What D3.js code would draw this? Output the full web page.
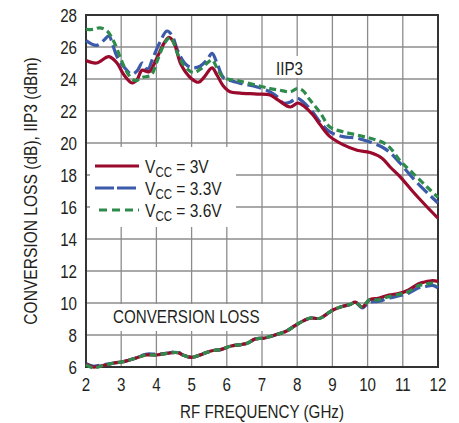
<!DOCTYPE html>
<html>
<head>
<meta charset="utf-8">
<script src="https://cdn.jsdelivr.net/npm/d3@7"></script>
<style>
  body { margin: 0; background: #fff; }
  text { font-family: "Liberation Sans", Arial, sans-serif; fill: #231f20; }
</style>
</head>
<body>
<script>
var w = 459;
var h = 423;
var narrow = 0.82; // squeeze text horizontally, like a condensed face

// x ticks / y ticks
var xTicks = [2, 3, 4, 5, 6, 7, 8, 9, 10, 11, 12];
var yTicks = [6, 8, 10, 12, 14, 16, 18, 20, 22, 24, 26, 28];

// IIP3 curves (GHz, dBm)
var iip3Freq3V = [2.0, 2.3, 2.65, 2.88, 3.08, 3.31, 3.45, 3.59, 3.79, 3.99, 4.22, 4.36, 4.5, 4.7, 4.98, 5.2, 5.35, 5.58, 5.72, 5.89, 6.09, 6.38, 6.86, 7.23, 7.45, 7.8, 8.02, 8.22, 8.45, 8.65, 8.93, 9.3, 9.7, 10.07, 10.41, 10.64, 10.92, 11.29, 11.69, 12.0];
var iip3Val3V  = [25.15, 25.0, 25.4, 25.0, 24.25, 23.75, 23.95, 24.55, 24.45, 25.2, 26.25, 26.6, 26.25, 24.9, 24.05, 23.8, 24.1, 24.7, 24.25, 23.6, 23.2, 23.12, 23.06, 23.0, 22.7, 22.25, 22.5, 22.25, 21.75, 21.15, 20.4, 19.9, 19.55, 19.4, 19.05, 18.5, 17.9, 16.95, 16.0, 15.3];

var iip3Freq33V = [2.0, 2.3, 2.5, 2.65, 2.75, 2.88, 3.08, 3.3, 3.45, 3.6, 3.75, 3.9, 4.1, 4.3, 4.45, 4.6, 4.8, 5.0, 5.24, 5.44, 5.58, 5.72, 5.9, 6.1, 6.45, 6.86, 7.23, 7.43, 7.6, 7.8, 8.0, 8.17, 8.45, 8.65, 8.93, 9.3, 9.7, 10.07, 10.41, 10.64, 10.92, 11.29, 11.69, 12.0];
var iip3Val33V  = [26.4, 26.1, 26.4, 26.7, 26.2, 25.4, 24.75, 24.3, 24.5, 25.0, 24.6, 25.3, 26.3, 27.0, 26.7, 25.8, 25.0, 24.7, 24.8, 25.2, 25.6, 25.0, 24.1, 23.9, 23.7, 23.5, 23.2, 22.9, 22.5, 22.56, 22.8, 22.56, 21.9, 21.3, 20.7, 20.4, 20.3, 20.06, 19.75, 19.4, 18.75, 17.8, 16.9, 16.25];

var iip3Freq36V = [2.0, 2.2, 2.4, 2.6, 2.8, 3.0, 3.2, 3.4, 3.6, 3.85, 4.0, 4.25, 4.4, 4.6, 4.8, 5.05, 5.24, 5.47, 5.58, 5.72, 5.9, 6.3, 6.86, 7.23, 7.5, 7.8, 8.0, 8.15, 8.36, 8.65, 8.93, 9.3, 9.7, 10.07, 10.41, 10.64, 10.92, 11.29, 11.69, 12.0];
var iip3Val36V  = [27.1, 27.1, 27.2, 27.0, 26.3, 25.2, 24.3, 23.9, 24.1, 24.25, 25.0, 26.3, 26.6, 25.6, 24.8, 24.4, 24.6, 25.05, 25.2, 24.7, 24.1, 23.9, 23.6, 23.4, 23.3, 23.2, 23.4, 23.3, 22.7, 21.9, 21.0, 20.7, 20.5, 20.3, 20.06, 19.7, 18.9, 18.1, 17.25, 16.6];

// conversion loss curves (GHz, dB)
var clFreq = [2.0, 2.2, 2.5, 2.8, 3.1, 3.4, 3.7, 4.0, 4.3, 4.6, 4.75, 5.0, 5.3, 5.55, 5.85, 6.1, 6.4, 6.6, 6.8, 7.05, 7.3, 7.7, 7.95, 8.35, 8.65, 9.0, 9.3, 9.5, 9.65, 9.85, 10.05, 10.3, 10.6, 10.9, 11.15, 11.45, 11.6, 11.85, 12.0];
var clVal3V  = [6.2, 6.0, 6.1, 6.25, 6.35, 6.55, 6.75, 6.75, 6.85, 6.9, 6.75, 6.6, 6.8, 7.0, 7.1, 7.3, 7.4, 7.5, 7.75, 7.8, 7.95, 8.25, 8.6, 9.05, 9.05, 9.55, 9.8, 9.9, 10.05, 9.75, 10.2, 10.3, 10.5, 10.6, 10.8, 11.2, 11.3, 11.4, 11.35];
var clVal33V = [6.2, 6.05, 6.15, 6.25, 6.35, 6.55, 6.8, 6.8, 6.85, 6.95, 6.75, 6.6, 6.8, 7.0, 7.1, 7.3, 7.4, 7.5, 7.75, 7.8, 7.95, 8.25, 8.6, 9.05, 9.05, 9.55, 9.8, 9.9, 10.05, 9.7, 10.05, 10.1, 10.3, 10.45, 10.6, 10.95, 11.0, 11.1, 10.95];
var clVal36V = [6.15, 5.95, 6.1, 6.25, 6.35, 6.55, 6.75, 6.75, 6.85, 6.9, 6.75, 6.6, 6.8, 7.0, 7.1, 7.3, 7.4, 7.5, 7.75, 7.8, 7.95, 8.25, 8.6, 9.05, 9.05, 9.55, 9.8, 9.9, 10.05, 9.75, 10.2, 10.2, 10.4, 10.55, 10.7, 11.1, 11.15, 11.25, 11.15];

var legendLabels = ["3V", "3.3V", "3.6V"];

var colors = ["#9a0a2c", "#3b5aaa", "#2e8b4c"];
var dashes = [null, "14,5", "7,4"];

var x = d3.scaleLinear().domain([2, 12]).range([86, 438]);
var y = d3.scaleLinear().domain([6, 28]).range([367, 15]);

var svg = d3.select("body").append("svg")
  .attr("width", w)
  .attr("height", h);

// text helper: narrow text placed at (px, py)
var label = function(parent, px, py, txt, size, anchor, rot) {
  var g = parent.append("g")
    .attr("transform", "translate(" + px + "," + py + ")" + (rot ? " rotate(" + rot + ")" : "") + " scale(" + narrow + ",1)");
  return g.append("text")
    .attr("text-anchor", anchor || "start")
    .style("font-size", size + "px")
    .text(txt);
};

// grid
var grid = svg.append("g");
grid.selectAll(".vg")
  .data(xTicks.slice(1, -1))
  .enter()
    .append("line")
    .attr("x1", (d) => x(d)).attr("x2", (d) => x(d))
    .attr("y1", y(28)).attr("y2", y(6))
    .attr("stroke", "#8c8c8c")
    .attr("stroke-width", 1.3);
grid.selectAll(".hg")
  .data(yTicks.slice(1, -1))
  .enter()
    .append("line")
    .attr("y1", (d) => y(d)).attr("y2", (d) => y(d))
    .attr("x1", x(2)).attr("x2", x(12))
    .attr("stroke", "#8c8c8c")
    .attr("stroke-width", 1.3);

// white boxes behind the labels
svg.append("rect").attr("x", 90).attr("y", 147).attr("width", 146).attr("height", 80).attr("fill", "#fff");
svg.append("rect").attr("x", 108).attr("y", 304).attr("width", 158).attr("height", 27).attr("fill", "#fff");
svg.append("rect").attr("x", 270).attr("y", 56).attr("width", 42).attr("height", 22).attr("fill", "#fff");

// frame
svg.append("rect")
  .attr("x", x(2)).attr("y", y(28))
  .attr("width", x(12) - x(2)).attr("height", y(6) - y(28))
  .attr("fill", "none")
  .attr("stroke", "#333")
  .attr("stroke-width", 2);

// tick labels
xTicks.forEach((d) => label(svg, x(d), 391, d, 18.5, "middle"));
yTicks.forEach((d) => label(svg, 77, y(d) + 6.5, d, 18.5, "end"));

label(svg, 262, 418, "RF FREQUENCY (GHz)", 18.5, "middle");
label(svg, 37, 191, "CONVERSION LOSS (dB), IIP3 (dBm)", 19, "middle", -90);

label(svg, 113, 323, "CONVERSION LOSS", 18.5);
label(svg, 276, 75, "IIP3", 18.5);

// curves
var line = d3.line()
  .x((d) => x(d[0]))
  .y((d) => y(d[1]))
  .curve(d3.curveCatmullRom.alpha(0.5));

var series = [
  {c: 1, f: iip3Freq33V, v: iip3Val33V},
  {c: 0, f: iip3Freq3V, v: iip3Val3V},
  {c: 2, f: iip3Freq36V, v: iip3Val36V},
  {c: 1, f: clFreq, v: clVal33V},
  {c: 0, f: clFreq, v: clVal3V},
  {c: 2, f: clFreq, v: clVal36V}
];

svg.selectAll(".curve")
  .data(series)
  .enter()
    .append("path")
    .attr("d", (d) => line(d.f.map((f, i) => [f, d.v[i]])))
    .attr("fill", "none")
    .attr("stroke", (d) => colors[d.c])
    .attr("stroke-width", 3.2)
    .attr("stroke-dasharray", (d) => dashes[d.c]);

// legend
legendLabels.forEach((d, i) => {
  var yy = 166 + i * 22;
  svg.append("line")
    .attr("x1", i == 2 ? 99 : 95).attr("x2", 139)
    .attr("y1", yy).attr("y2", yy)
    .attr("stroke", colors[i])
    .attr("stroke-width", 3.2)
    .attr("stroke-dasharray", i == 1 ? "19,3" : (i == 2 ? "8,5" : null));
  var lt = label(svg, 145, yy + 7, "", 19);
  lt.append("tspan").text("V");
  lt.append("tspan").attr("dy", 4).style("font-size", "14px").text("CC");
  lt.append("tspan").attr("dy", -4).text(" = " + d);
});
</script>
</body>
</html>
